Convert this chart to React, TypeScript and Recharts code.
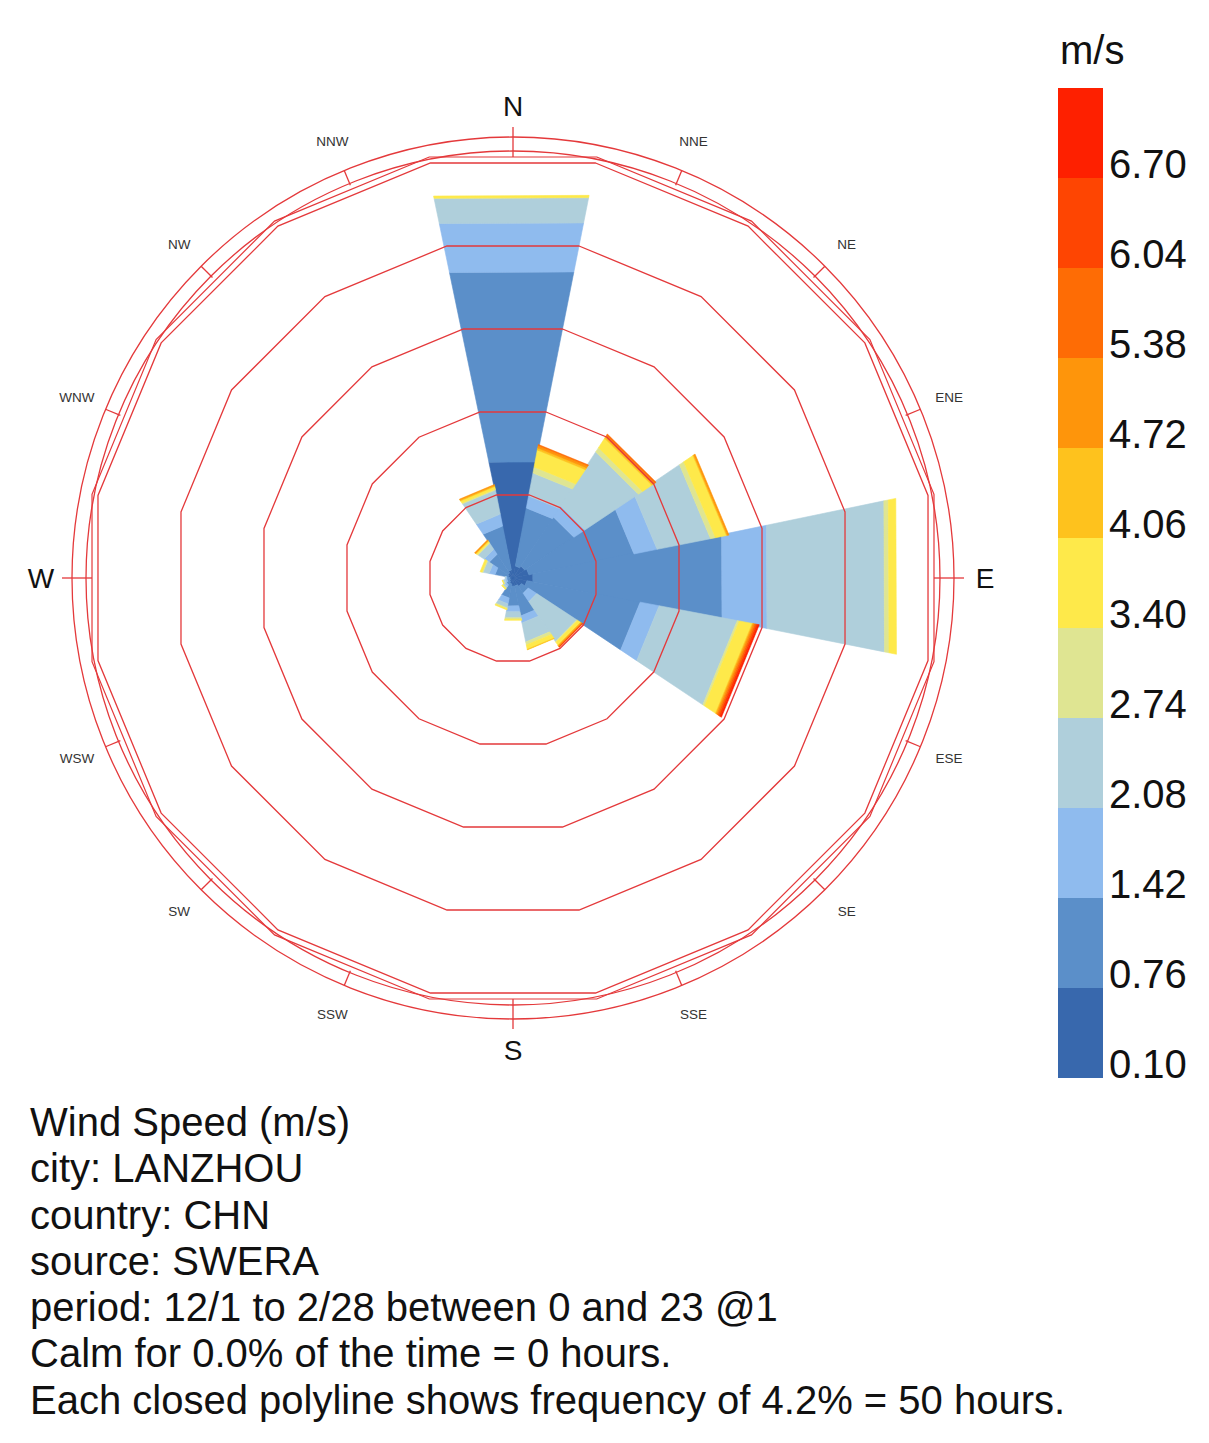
import React from 'react';
import {
  RadialBarChart,
  RadialBar,
  PolarAngleAxis,
  PolarRadiusAxis,
  PolarGrid,
  BarChart,
  Bar,
  XAxis,
  YAxis,
} from 'recharts';

// ---------- data ----------
const directions = ['N', 'NNE', 'NE', 'ENE', 'E', 'ESE', 'SE', 'SSE', 'S', 'SSW', 'SW', 'WSW', 'W', 'WNW', 'NW', 'NNW'];

// colour-bar boundaries (m/s)
const speedLabels = ['0.10', '0.76', '1.42', '2.08', '2.74', '3.40', '4.06', '4.72', '5.38', '6.04', '6.70'];
const binColors = ['#3868ad', '#5b8fc9', '#8fbbee', '#afcfdb', '#dfe592', '#fee94a', '#fec21d', '#fe950b', '#fe6c05', '#fe4502', '#fe2000'];

// hours per speed bin, per direction (N .. NNW)
const hours010 = [69.9, 7.2, 8.4, 9.6, 12.0, 8.4, 6.0, 4.8, 4.8, 3.6, 2.4, 1.8, 1.8, 3.0, 3.6, 4.8];
const hours076 = [114.5, 34.9, 34.9, 63.3, 113.9, 68.1, 4.8, 18.1, 12.0, 8.4, 2.4, 1.8, 1.8, 7.8, 13.3, 26.5];
const hours142 = [29.5, 7.2, 7.8, 13.9, 27.1, 11.4, 6.0, 4.2, 3.6, 3.6, 1.2, 1.2, 0.6, 3.6, 3.6, 7.2];
const hours208 = [15.1, 13.9, 38.0, 32.2, 70.8, 47.0, 28.3, 11.4, 3.6, 2.4, 1.2, 1.2, 0.6, 3.6, 4.2, 14.5];
const hours274 = [0.3, 3.6, 3.0, 3.0, 2.7, 1.2, 0.6, 1.8, 0.9, 0.6, 0.3, 0.3, 0, 0.6, 0.6, 0.6];
const hours340 = [1.2, 10.2, 6.6, 6.6, 4.5, 7.8, 2.1, 2.7, 0.6, 0.6, 0.6, 0.3, 0, 1.2, 0.8, 1.5];
const hours406 = [0, 1.2, 0.9, 0.6, 0, 0.6, 0.3, 0.3, 0, 0, 0, 0, 0, 0, 0.4, 0.6];
const hours472 = [0, 1.5, 1.2, 0.9, 0, 0.9, 0.6, 0, 0, 0, 0, 0, 0, 0, 0.6, 0.6];
const hours538 = [0, 0.6, 0.9, 0, 0, 0.9, 0.3, 0, 0, 0, 0, 0, 0, 0, 0, 0];
const hours604 = [0, 0, 0, 0, 0, 0.9, 0.3, 0, 0, 0, 0, 0, 0, 0, 0, 0];
const hours670 = [0, 0, 0, 0, 0, 0.9, 0, 0, 0, 0, 0, 0, 0, 0, 0, 0];

const binSeries = [hours010, hours076, hours142, hours208, hours274, hours340, hours406, hours472, hours538, hours604, hours670];

const ringValues = [50, 100, 150, 200, 250];

const infoLines = [
  'Wind Speed (m/s)',
  'city: LANZHOU',
  'country: CHN',
  'source: SWERA',
  'period: 12/1 to 2/28 between 0 and 23 @1',
  'Calm for 0.0% of the time = 0 hours.',
  'Each closed polyline shows frequency of 4.2% = 50 hours.',
];

// ---------- derived tables ----------
const roseData = directions.map((dir, i) => {
  const row: Record<string, any> = { dir };
  binSeries.forEach((s, b) => {
    row[`b${b}`] = s[i];
  });
  return row;
});

const legendData = [
  speedLabels.reduce((acc: Record<string, any>, _l, b) => {
    acc[`b${b}`] = 1;
    return acc;
  }, { name: 'scale' }),
];

// ---------- layout constants ----------
const FONT = '"Liberation Sans", Arial, Helvetica, sans-serif';
const CHART_W = 1000;
const CENTER_X = 512.5;
const CENTER_Y = 578;
const OUTER_R = 457;
const DOMAIN_MAX = 270;
const SECTOR = 360 / directions.length;
const START_ANGLE = 90 - SECTOR / 2;
const END_ANGLE = START_ANGLE - 360;
const RED = '#e4393b';
const PX_PER_UNIT = OUTER_R / DOMAIN_MAX;
const boundaryAngles = directions.map((_d, i) => START_ANGLE - SECTOR * i);

const RAD = Math.PI / 180;
const polar = (cx: number, cy: number, r: number, a: number) => [cx + r * Math.cos(-a * RAD), cy + r * Math.sin(-a * RAD)];

function WedgeShape(props: any) {
  const { cx, cy, innerRadius, outerRadius, startAngle, endAngle, fill } = props;
  if (!(outerRadius - innerRadius > 0.01)) return null;
  const a = polar(cx, cy, innerRadius, startAngle);
  const b = polar(cx, cy, outerRadius, startAngle);
  const c = polar(cx, cy, outerRadius, endAngle);
  const d = polar(cx, cy, innerRadius, endAngle);
  const path = `M${a[0]},${a[1]}L${b[0]},${b[1]}L${c[0]},${c[1]}L${d[0]},${d[1]}Z`;
  return <path d={path} fill={fill} stroke={fill} strokeWidth={0.6} />;
}

function CompassTick(props: any) {
  const { payload } = props;
  const cx = props.cx ?? CHART_W / 2;
  const cy = props.cy ?? CHART_W / 2;
  // tick coordinate sits at the start of the band; move to the band centre
  const a = payload.coordinate + SECTOR / 2;
  const name = String(payload.value);
  const major = name === 'N' || name === 'E' || name === 'S' || name === 'W';
  const r1 = major ? 421 : 425;
  const r2 = major ? 451 : 441;
  const p1 = polar(cx, cy, r1, a);
  const p2 = polar(cx, cy, r2, a);
  const t = polar(cx, cy, 472, a);
  return (
    <g>
      <line x1={p1[0]} y1={p1[1]} x2={p2[0]} y2={p2[1]} stroke={RED} strokeWidth={1.3} />
      <text
        x={t[0]}
        y={t[1]}
        textAnchor="middle"
        dominantBaseline="central"
        fontFamily={FONT}
        fontSize={major ? 28 : 13.5}
        fill={major ? '#111' : '#333'}
      >
        {name}
      </text>
    </g>
  );
}

function LegendTick(props: any) {
  const { x, y, payload } = props;
  const label = speedLabels[payload.value];
  if (label === undefined) return null;
  return (
    <text x={x - 2} y={y} textAnchor="start" fontFamily={FONT} fontSize={40} fill="#111">
      {label}
    </text>
  );
}

const chartProps = {
  width: CHART_W,
  height: CHART_W,
  data: roseData,
  layout: 'centric' as const,
  cx: CHART_W / 2,
  cy: CHART_W / 2,
  innerRadius: 0,
  outerRadius: OUTER_R,
  startAngle: START_ANGLE,
  endAngle: END_ANGLE,
  barCategoryGap: 0,
  barGap: 0,
  margin: { top: 0, right: 0, bottom: 0, left: 0 },
};

export default function App() {
  const chartPos: React.CSSProperties = {
    position: 'absolute',
    left: CENTER_X - CHART_W / 2,
    top: CENTER_Y - CHART_W / 2,
  };
  return (
    <div
      style={{
        position: 'absolute',
        left: 0,
        top: 0,
        width: 1209,
        height: 1443,
        background: '#fff',
        fontFamily: FONT,
        overflow: 'hidden',
      }}
    >
      {/* wind rose bars */}
      <div style={chartPos}>
        <RadialBarChart {...chartProps}>
          <PolarAngleAxis type="category" dataKey="dir" tick={false} axisLine={false} tickLine={false} />
          <PolarRadiusAxis type="number" domain={[0, DOMAIN_MAX]} tick={false} axisLine={false} />
          {binColors.map((c, b) => (
            <RadialBar
              key={b}
              dataKey={`b${b}`}
              stackId="speed"
              fill={c}
              shape={WedgeShape}
              isAnimationActive={false}
            />
          ))}
        </RadialBarChart>
      </div>

      {/* grid & compass overlay */}
      <div style={{ ...chartPos, pointerEvents: 'none' }}>
        <RadialBarChart {...chartProps}>
          <PolarAngleAxis type="category" dataKey="dir" tick={CompassTick} axisLine={false} tickLine={false} />
          <PolarRadiusAxis type="number" domain={[0, DOMAIN_MAX]} ticks={ringValues} tick={false} axisLine={false} />
          <PolarGrid
            gridType="polygon"
            polarAngles={boundaryAngles}
            polarRadius={ringValues.map((v) => v * PX_PER_UNIT)}
            radialLines={false}
            stroke={RED}
            strokeWidth={1.3}
          />
          <PolarGrid
            gridType="polygon"
            polarAngles={boundaryAngles}
            polarRadius={[253.6 * PX_PER_UNIT]}
            radialLines={false}
            stroke={RED}
            strokeWidth={1.2}
          />
          <PolarGrid
            gridType="circle"
            polarAngles={boundaryAngles}
            polarRadius={[427, 441]}
            radialLines={false}
            stroke={RED}
            strokeWidth={1.3}
          />
        </RadialBarChart>
      </div>

      {/* colour bar */}
      <div style={{ position: 'absolute', left: 1060, top: 26, fontSize: 40, lineHeight: '48px', color: '#111' }}>m/s</div>
      <div style={{ position: 'absolute', left: 1058, top: 88 }}>
        <BarChart width={151} height={1004} data={legendData} margin={{ top: 0, right: 0, bottom: 14, left: 0 }} barCategoryGap={0}>
          <XAxis dataKey="name" hide />
          <YAxis
            orientation="right"
            type="number"
            width={106}
            domain={[0, 11]}
            ticks={[0, 1, 2, 3, 4, 5, 6, 7, 8, 9, 10]}
            interval={0}
            axisLine={false}
            tickLine={false}
            tick={LegendTick}
          />
          {binColors.map((c, b) => (
            <Bar key={b} dataKey={`b${b}`} stackId="legend" fill={c} isAnimationActive={false} />
          ))}
        </BarChart>
      </div>

      {/* info text */}
      <div style={{ position: 'absolute', left: 30, top: 1099, fontSize: 40, lineHeight: '46.3px', color: '#111', whiteSpace: 'nowrap' }}>
        {infoLines.map((l, i) => (
          <div key={i}>{l}</div>
        ))}
      </div>
    </div>
  );
}
